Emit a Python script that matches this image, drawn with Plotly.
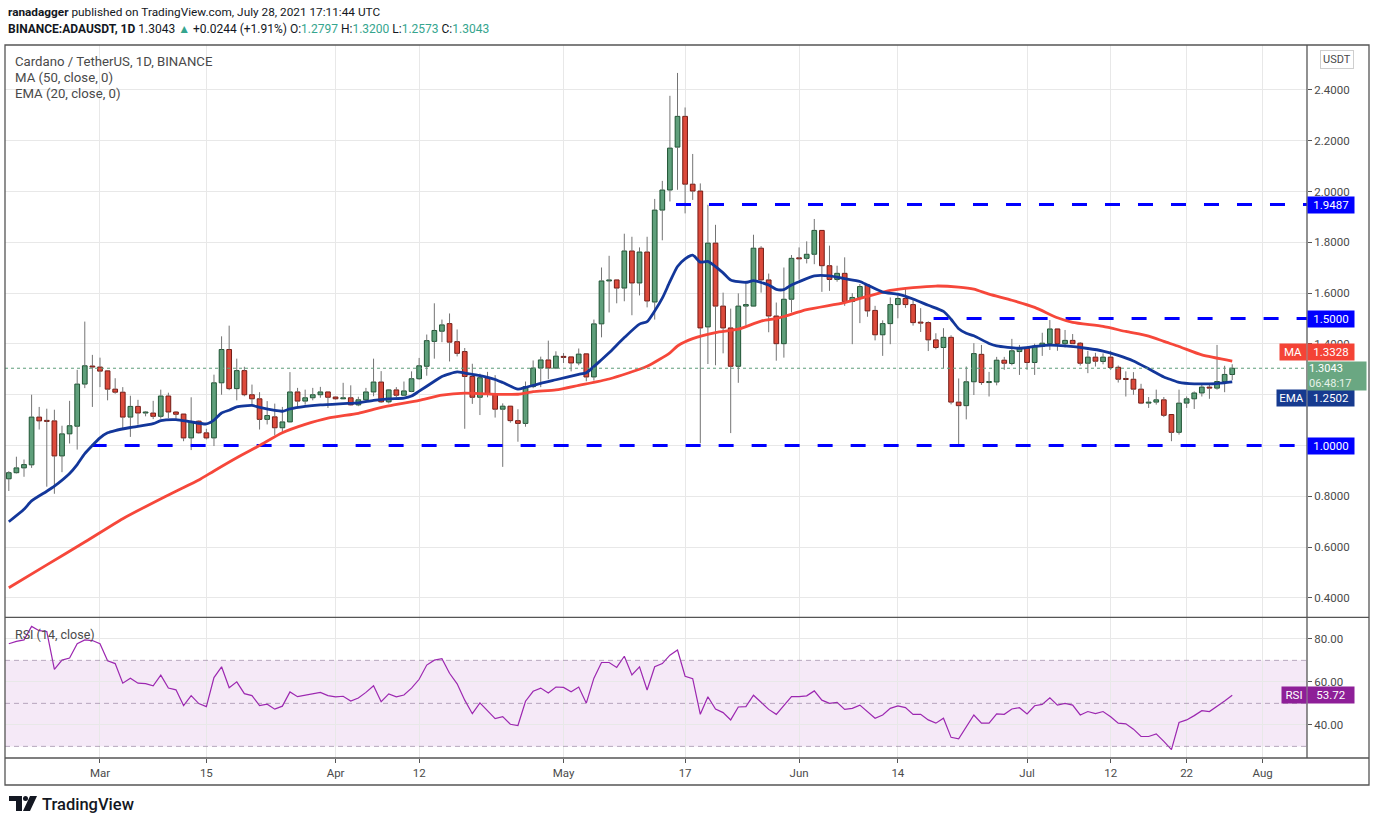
import pandas as pd
import plotly.graph_objects as go

# ---------------- data ----------------
start_date = "2021-02-17"
opens = [0.869,0.893,0.912,0.924,1.112,1.097,1.097,0.959,1.046,1.076,
         1.242,1.313,1.309,1.294,1.222,1.210,1.112,1.154,1.128,1.128,
         1.115,1.195,1.132,1.124,1.030,1.096,1.050,1.030,1.247,1.378,
         1.224,1.295,1.200,1.184,1.103,1.113,1.070,1.093,1.211,1.175,
         1.188,1.200,1.211,1.191,1.184,1.188,1.160,1.180,1.211,1.250,
         1.172,1.219,1.198,1.213,1.263,1.312,1.410,1.450,1.480,1.409,
         1.370,1.272,1.190,1.267,1.202,1.143,1.155,1.098,1.087,1.232,
         1.305,1.337,1.305,1.351,1.349,1.325,1.361,1.270,1.479,1.648,
         1.652,1.620,1.766,1.640,1.762,1.565,1.927,2.006,2.175,2.296,
         2.029,2.002,1.467,1.797,1.549,1.463,1.312,1.549,1.549,1.777,
         1.652,1.510,1.401,1.576,1.737,1.737,1.753,1.847,1.708,1.654,
         1.678,1.567,1.583,1.632,1.532,1.436,1.480,1.555,1.579,1.555,
         1.484,1.484,1.416,1.386,1.426,1.171,1.157,1.251,1.359,1.248,
         1.250,1.336,1.323,1.370,1.383,1.327,1.390,1.401,1.459,1.401,
         1.414,1.403,1.324,1.348,1.331,1.348,1.308,1.263,1.261,1.222,
         1.167,1.171,1.180,1.122,1.052,1.167,1.184,1.207,1.230,1.226,
         1.252,1.2797]
highs = [0.899,0.956,0.945,1.200,1.152,1.145,1.141,1.078,1.176,1.298,
         1.488,1.357,1.346,1.294,1.265,1.230,1.196,1.180,1.135,1.176,
         1.220,1.208,1.135,1.124,1.190,1.099,1.066,1.279,1.430,1.472,
         1.342,1.310,1.240,1.210,1.175,1.165,1.152,1.289,1.227,1.220,
         1.227,1.231,1.211,1.192,1.247,1.237,1.192,1.227,1.342,1.293,
         1.222,1.230,1.252,1.292,1.345,1.437,1.560,1.496,1.520,1.457,
         1.384,1.322,1.283,1.290,1.277,1.166,1.156,1.143,1.252,1.335,
         1.350,1.413,1.371,1.364,1.349,1.382,1.361,1.496,1.701,1.747,
         1.652,1.834,1.822,1.780,1.822,1.971,2.042,2.377,2.467,2.331,
         2.148,2.032,1.948,1.869,1.602,1.539,1.599,1.649,1.830,1.785,
         1.677,1.563,1.701,1.750,1.780,1.804,1.892,1.847,1.787,1.708,
         1.741,1.600,1.636,1.632,1.550,1.493,1.583,1.592,1.616,1.576,
         1.541,1.489,1.442,1.462,1.434,1.264,1.311,1.403,1.396,1.290,
         1.349,1.349,1.420,1.396,1.388,1.401,1.444,1.494,1.459,1.455,
         1.439,1.407,1.373,1.365,1.363,1.373,1.315,1.292,1.289,1.243,
         1.191,1.220,1.191,1.122,1.220,1.193,1.213,1.246,1.246,1.396,
         1.314,1.3200]
lows = [0.821,0.890,0.877,0.912,1.063,0.838,0.810,0.895,1.008,0.984,
        1.226,1.152,1.230,1.178,1.204,1.065,1.034,1.082,1.115,1.104,
        1.106,1.108,1.106,1.017,0.982,1.047,1.024,0.998,1.200,1.218,
        1.178,1.194,1.162,1.063,1.083,1.040,1.046,1.092,1.152,1.161,
        1.178,1.188,1.148,1.181,1.183,1.158,1.155,1.175,1.194,1.168,
        1.166,1.190,1.196,1.210,1.259,1.275,1.342,1.407,1.331,1.351,
        1.066,1.164,1.120,1.190,1.110,0.916,1.090,1.015,1.074,1.226,
        1.230,1.261,1.301,1.325,1.292,1.316,1.253,1.256,1.426,1.524,
        1.560,1.568,1.513,1.591,1.544,1.496,1.808,1.961,2.007,1.914,
        1.967,1.009,1.321,1.316,1.363,1.049,1.247,1.472,1.548,1.602,
        1.446,1.334,1.346,1.524,1.653,1.717,1.714,1.605,1.609,1.645,
        1.550,1.399,1.482,1.507,1.414,1.353,1.399,1.501,1.542,1.472,
        1.447,1.372,1.379,1.304,1.162,0.997,1.103,1.199,1.239,1.193,
        1.237,1.298,1.316,1.278,1.298,1.278,1.353,1.376,1.373,1.386,
        1.400,1.315,1.285,1.311,1.320,1.298,1.248,1.193,1.200,1.163,
        1.148,1.161,1.112,1.017,1.043,1.148,1.144,1.193,1.184,1.220,
        1.210,1.2573]
closes = [0.893,0.912,0.925,1.112,1.097,1.095,0.959,1.046,1.078,1.242,
          1.314,1.309,1.293,1.222,1.210,1.112,1.154,1.128,1.130,1.115,
          1.195,1.132,1.123,1.030,1.095,1.050,1.030,1.247,1.378,1.224,
          1.295,1.200,1.184,1.103,1.118,1.070,1.093,1.211,1.175,1.188,
          1.200,1.211,1.190,1.184,1.188,1.160,1.180,1.211,1.250,1.172,
          1.219,1.198,1.215,1.263,1.314,1.413,1.453,1.475,1.407,1.363,
          1.272,1.190,1.267,1.202,1.143,1.155,1.098,1.087,1.232,1.305,
          1.337,1.305,1.352,1.347,1.325,1.360,1.270,1.479,1.648,1.650,
          1.620,1.766,1.640,1.762,1.569,1.927,2.006,2.171,2.296,2.029,
          2.002,1.463,1.797,1.549,1.463,1.312,1.549,1.555,1.777,1.652,
          1.510,1.401,1.576,1.737,1.735,1.753,1.847,1.708,1.654,1.678,
          1.567,1.583,1.626,1.530,1.436,1.480,1.555,1.579,1.555,1.484,
          1.482,1.416,1.386,1.426,1.171,1.157,1.251,1.362,1.248,1.250,
          1.336,1.324,1.373,1.383,1.327,1.391,1.403,1.459,1.401,1.414,
          1.401,1.324,1.348,1.332,1.348,1.307,1.261,1.260,1.222,1.167,
          1.171,1.180,1.119,1.052,1.167,1.184,1.207,1.230,1.226,1.252,
          1.2799,1.3043]

# indicator lines (day offset from start_date, value)
ema_days = [0,2,3,5,6,8,9,10,12,13,14,16,19,20,22,24,26,27,28,29,30,32,33,35,36,37,39,41,44,46,
            48,50,52,53,54,56,57,59,60,62,64,65,67,68,70,72,75,76,78,79,81,83,84,85,86,87,88,89,90,91,
            92,94,95,97,98,100,101,102,103,104,106,108,110,112,113,115,117,119,121,123,124,125,126,127,129,130,133,135,137,139,
            142,144,146,148,150,152,153,154,156,158,160,161]
ema_vals = [0.700,0.749,0.782,0.820,0.840,0.890,0.925,0.968,1.030,1.050,1.059,1.071,1.086,1.098,1.102,1.093,1.085,1.100,1.128,1.139,
            1.152,1.158,1.150,1.138,1.135,1.144,1.154,1.160,1.165,1.168,1.178,1.184,1.187,1.195,1.214,1.253,1.272,1.290,1.285,1.275,
            1.260,1.248,1.222,1.229,1.245,1.259,1.280,1.287,1.338,1.365,1.425,1.478,1.488,1.530,1.580,1.645,1.705,1.735,1.750,1.722,
            1.725,1.680,1.652,1.642,1.649,1.632,1.615,1.614,1.632,1.645,1.668,1.668,1.657,1.646,1.632,1.604,1.596,1.577,1.552,1.528,
            1.497,1.460,1.442,1.432,1.402,1.392,1.383,1.390,1.395,1.392,1.382,1.372,1.355,1.333,1.302,1.270,1.259,1.249,1.243,1.243,
            1.247,1.2502]
ma_days = [0,5,10,15,19,22,25,27,30,33,36,39,42,46,48,50,54,57,60,63,67,69,72,75,79,84,87,88,90,93,
           96,99,101,102,105,110,113,116,119,122,125,127,129,132,135,138,140,144,147,150,152,154,157,161]
ma_vals = [0.440,0.530,0.620,0.712,0.775,0.820,0.864,0.900,0.952,1.000,1.050,1.083,1.108,1.127,1.142,1.156,1.178,1.198,1.206,1.203,
           1.202,1.212,1.219,1.237,1.262,1.312,1.365,1.392,1.421,1.445,1.458,1.490,1.500,1.508,1.535,1.563,1.587,1.611,1.622,1.628,
           1.624,1.616,1.596,1.572,1.544,1.503,1.485,1.469,1.449,1.431,1.410,1.390,1.357,1.3328]
rsi_vals = [77.7,78.8,79.5,85.8,83.8,83.4,65.8,70.1,71.1,77.7,79.5,79.2,77.7,69.8,68.5,59.4,61.7,59.4,59.2,58.2,
            63.1,57.1,56.3,49.0,53.6,49.9,48.5,62.0,67.0,57.3,60.0,54.5,53.6,49.0,49.6,47.3,48.7,55.3,53.1,53.7,
            54.5,55.1,53.6,53.0,53.3,51.1,52.5,55.1,58.2,50.8,54.4,53.0,53.9,57.1,61.2,67.8,70.1,70.8,64.0,59.1,
            51.5,45.2,50.2,46.4,42.9,43.8,40.3,39.7,51.0,55.6,57.1,54.8,57.6,57.4,55.4,57.6,50.1,61.7,69.0,69.0,
            66.7,71.9,63.2,67.0,56.2,67.0,68.5,72.4,74.8,62.6,61.5,44.9,53.1,47.4,45.7,42.3,48.3,48.5,53.8,50.5,
            47.2,44.9,49.2,53.1,53.1,53.5,55.8,51.5,50.0,50.5,47.2,47.7,49.2,46.2,43.1,44.6,47.7,48.8,48.0,44.9,
            44.9,42.3,40.8,43.1,34.2,33.5,38.9,44.6,40.8,40.8,45.1,44.9,47.4,48.0,45.1,48.9,49.5,52.6,49.2,50.0,
            49.2,44.6,46.2,45.2,46.2,43.8,40.8,40.5,38.0,34.6,34.6,35.8,32.3,28.5,41.1,42.3,44.3,46.6,46.2,48.5,
            51.1,53.72]

levels = [1.9487, 1.5000, 1.0000]
level_from_day = [87.8, 121.7, 10.9]
ma_last, ema_last, rsi_last = 1.3328, 1.2502, 53.72
rsi_levels = [70, 50, 30]

price_ticks = [0.4, 0.6, 0.8, 1.0, 1.2, 1.4, 1.6, 1.8, 2.0, 2.2, 2.4]
price_tick_text = ["0.4000", "0.6000", "0.8000", "", "", "1.4000", "1.6000", "1.8000", "2.0000", "2.2000", "2.4000"]
tick_dates = ["2021-03-01","2021-03-15","2021-04-01","2021-04-12","2021-05-01","2021-05-17",
              "2021-06-01","2021-06-14","2021-07-01","2021-07-12","2021-07-22","2021-08-01"]
tick_text = ["Mar","15","Apr","12","May","17","Jun","14","Jul","12","22","Aug"]

# ---------------- helpers ----------------
W, H = 1376, 823
L, R, T, B = 5, 69, 45, 65
PW, PH = W - L - R, H - T - B
def pxx(x): return (x - L) / PW
def pxy(y): return (H - B - y) / PH

t0 = pd.Timestamp(start_date)
def day(d): return t0 + pd.Timedelta(days=d)
dates = [day(i) for i in range(len(closes))]
x_range = [day(-0.5), day(170.84)]

UP_FILL, UP_EDGE = "#5f9f7b", "#1f5434"
DN_FILL, DN_EDGE = "#dc4a3b", "#741c16"
WICK = "#747474"
MA_C, EMA_C = "#f6473a", "#13379a"
LVL_C = "#0000ff"
RSI_C = "#9c27b0"
TEAL = "#35a58e"
TXT = "#4a4a4a"
FONT = "Roboto"

fig = go.Figure()

# wicks (split around the body so they never cross it)
wx, wy = [], []
for d, o, h, l, c in zip(dates, opens, highs, lows, closes):
    top, bot = max(o, c), min(o, c)
    wx += [d, d, None, d, d, None]
    wy += [top, h, None, bot, l, None]
fig.add_trace(go.Scatter(x=wx, y=wy, mode="lines", line=dict(color=WICK, width=1),
                         xaxis="x2", yaxis="y", hoverinfo="skip", showlegend=False))

# bodies
base = [min(o, c) for o, c in zip(opens, closes)]
hgt = [max(abs(c - o), 0.004) for o, c in zip(opens, closes)]
up = [c >= o for o, c in zip(opens, closes)]
fig.add_trace(go.Bar(x=dates, y=hgt, base=base, width=0.62 * 86400000,
                     marker=dict(color=[UP_FILL if u else DN_FILL for u in up],
                                 line=dict(color=[UP_EDGE if u else DN_EDGE for u in up], width=1)),
                     xaxis="x2", yaxis="y", hoverinfo="skip", showlegend=False))

# horizontal levels
for lv, d0 in zip(levels, level_from_day):
    fig.add_trace(go.Scatter(x=[day(d0), x_range[1]], y=[lv, lv], mode="lines",
                             line=dict(color=LVL_C, width=3, dash="15px,18px"),
                             xaxis="x2", yaxis="y", hoverinfo="skip", showlegend=False))

# current price dotted line
fig.add_shape(type="line", xref="paper", yref="y", x0=0, x1=1, y0=closes[-1], y1=closes[-1],
              line=dict(color="#5e9e7b", width=1, dash="dot"))

# MA / EMA
fig.add_trace(go.Scatter(x=[day(d) for d in ma_days], y=ma_vals, mode="lines",
                         line=dict(color=MA_C, width=2.8, shape="spline", smoothing=0.6),
                         xaxis="x2", yaxis="y", hoverinfo="skip", showlegend=False))
fig.add_trace(go.Scatter(x=[day(d) for d in ema_days], y=ema_vals, mode="lines",
                         line=dict(color=EMA_C, width=2.8, shape="spline", smoothing=0.6),
                         xaxis="x2", yaxis="y", hoverinfo="skip", showlegend=False))

# RSI band and guide lines
fig.add_shape(type="rect", xref="paper", yref="y2", x0=0, x1=1, y0=rsi_levels[2], y1=rsi_levels[0],
              fillcolor="rgba(156,39,176,0.10)", line=dict(width=0), layer="below")
for lv in rsi_levels:
    fig.add_shape(type="line", xref="paper", yref="y2", x0=0, x1=1, y0=lv, y1=lv,
                  line=dict(color="rgba(130,110,140,0.55)", width=1, dash="5px,4px"))
fig.add_trace(go.Scatter(x=dates, y=rsi_vals, mode="lines", line=dict(color=RSI_C, width=1.2),
                         xaxis="x", yaxis="y2", hoverinfo="skip", showlegend=False))

# ---------------- axes ----------------
grid = "#e8e8e8"
common_x = dict(type="date", range=x_range, tickvals=tick_dates, showgrid=True, gridcolor=grid,
                gridwidth=1, zeroline=False, fixedrange=True)
fig.update_layout(
    xaxis=dict(**common_x, domain=[0, 1], anchor="y2", ticktext=tick_text, ticks="outside",
               ticklen=4, tickcolor="#555", tickfont=dict(family=FONT, size=11.5, color=TXT)),
    xaxis2=dict(**common_x, domain=[0, 1], anchor="y", matches="x", showticklabels=False),
    yaxis=dict(domain=[0.1978, 1], range=[0.325, 2.577], side="right", anchor="x2",
               tickvals=price_ticks, ticktext=price_tick_text,
               ticks="outside", ticklen=4, tickcolor="#555", showgrid=True, gridcolor=grid,
               zeroline=False, tickfont=dict(family=FONT, size=11.5, color=TXT)),
    yaxis2=dict(domain=[0, 0.1964], range=[24.6, 89.7], side="right", anchor="x",
                tickvals=[40, 60, 80], tickformat=".2f", ticks="outside", ticklen=4, tickcolor="#555",
                showgrid=True, gridcolor=grid, zeroline=False,
                tickfont=dict(family=FONT, size=11.5, color=TXT)),
    barmode="overlay",
    width=W, height=H, margin=dict(l=L, r=R, t=T, b=B),
    paper_bgcolor="white", plot_bgcolor="white", showlegend=False,
    font=dict(family=FONT, color=TXT),
)

# frame and separators
FR = "#555555"
fig.add_shape(type="rect", xref="paper", yref="paper", x0=0, x1=pxx(1369), y0=pxy(785), y1=1,
              line=dict(color=FR, width=1.3))
fig.add_shape(type="line", xref="paper", yref="paper", x0=1, x1=1, y0=0, y1=1, line=dict(color=FR, width=1.3))
fig.add_shape(type="line", xref="paper", yref="paper", x0=0, x1=pxx(1369), y0=0.1971, y1=0.1971,
              line=dict(color=FR, width=1.3))
fig.add_shape(type="line", xref="paper", yref="paper", x0=0, x1=pxx(1369), y0=0, y1=0,
              line=dict(color=FR, width=1.3))

# ---------------- texts ----------------
def ann(text, x, y, size=12.5, color="#131722", xanchor="left", **kw):
    fig.add_annotation(text=text, x=x, y=y, xref="paper", yref="paper", showarrow=False,
                       xanchor=xanchor, yanchor="middle", font=dict(family=FONT, size=size, color=color), **kw)

ann("<b>ranadagger</b> published on TradingView.com, July 28, 2021 17:11:44 UTC", pxx(6), pxy(12), size=11.8)
tl = lambda v: f"<span style='color:{TEAL}'>{v}</span>"
ann(f"<b>BINANCE:ADAUSDT, 1D</b> {closes[-1]:.4f} {tl('▲')} +0.0244 (+1.91%) "
    f"O:{tl(f'{opens[-1]:.4f}')} H:{tl(f'{highs[-1]:.4f}')} L:{tl(f'{lows[-1]:.4f}')} C:{tl(f'{closes[-1]:.4f}')}",
    pxx(6), pxy(29), size=12)
ann("Cardano / TetherUS, 1D, BINANCE", pxx(13), pxy(61), size=13.2, color=TXT)
ann("MA (50, close, 0)", pxx(13), pxy(77), size=13.2, color=TXT)
ann("EMA (20, close, 0)", pxx(13), pxy(93), size=13.2, color=TXT)
ann("RSI (14, close)", pxx(13), pxy(634), size=12.5, color=TXT)
ann("USDT", pxx(1337), pxy(59), size=11, color=TXT, xanchor="center",
    bordercolor="#cfcfcf", borderwidth=1, borderpad=2, bgcolor="white")

# axis value boxes
def box(text, yv, bg, yref="y", xanchor="left", width=44, yshift=0, fc="white", height=14):
    fig.add_annotation(text=text, x=1, y=yv, xref="paper", yref=yref, showarrow=False,
                       xanchor=xanchor, yanchor="middle", bgcolor=bg, width=width, height=height,
                       borderpad=1, yshift=yshift, align="center",
                       font=dict(family=FONT, size=11.5, color=fc))

for lv in levels:
    box(f"{lv:.4f}", lv, LVL_C)
box("MA", ma_last, "#f44336", xanchor="right", width=24, yshift=9)
box(f"{ma_last:.4f}", ma_last, "#f44336", yshift=9)
box("EMA", ema_last, "#163a8f", xanchor="right", width=27, yshift=-16.5)
box(f"{ema_last:.4f}", ema_last, "#163a8f", yshift=-16.5)
fig.add_annotation(text=f"{closes[-1]:.4f}<br><span style='color:#e6f2ea'>06:48:17</span>", x=1, y=closes[-1],
                   xref="paper", yref="y", showarrow=False, xanchor="left", yanchor="top", yshift=7.5,
                   bgcolor="#6aa782", width=56, height=26, borderpad=1, align="left",
                   font=dict(family=FONT, size=11, color="white"))
box("RSI", rsi_last, "#8e1f98", yref="y2", xanchor="right", width=22)
box(f"{rsi_last:.2f}", rsi_last, "#8e1f98", yref="y2")

# TradingView logo
def path(pts):
    return "M " + " L ".join(f"{pxx(a)},{pxy(b)}" for a, b in pts) + " Z"
fig.add_shape(type="path", xref="paper", yref="paper",
              path=path([(9, 796), (22, 796), (22, 811), (16, 811), (16, 801), (9, 801)]),
              fillcolor="#131722", line=dict(width=0))
fig.add_shape(type="circle", xref="paper", yref="paper", x0=pxx(23), x1=pxx(28), y0=pxy(801), y1=pxy(796),
              fillcolor="#131722", line=dict(width=0))
fig.add_shape(type="path", xref="paper", yref="paper",
              path=path([(30, 796), (37, 796), (30, 811), (23, 811)]),
              fillcolor="#131722", line=dict(width=0))
fig.add_annotation(text="TradingView", x=pxx(40), y=pxy(804), xref="paper", yref="paper", showarrow=False,
                   xanchor="left", yanchor="middle",
                   font=dict(family="Roboto", size=16.5, color="#131722", weight=500))

fig.write_html("out.html", config={"displayModeBar": False},
               post_script="document.body.style.margin='0px';document.body.style.padding='0px';")
